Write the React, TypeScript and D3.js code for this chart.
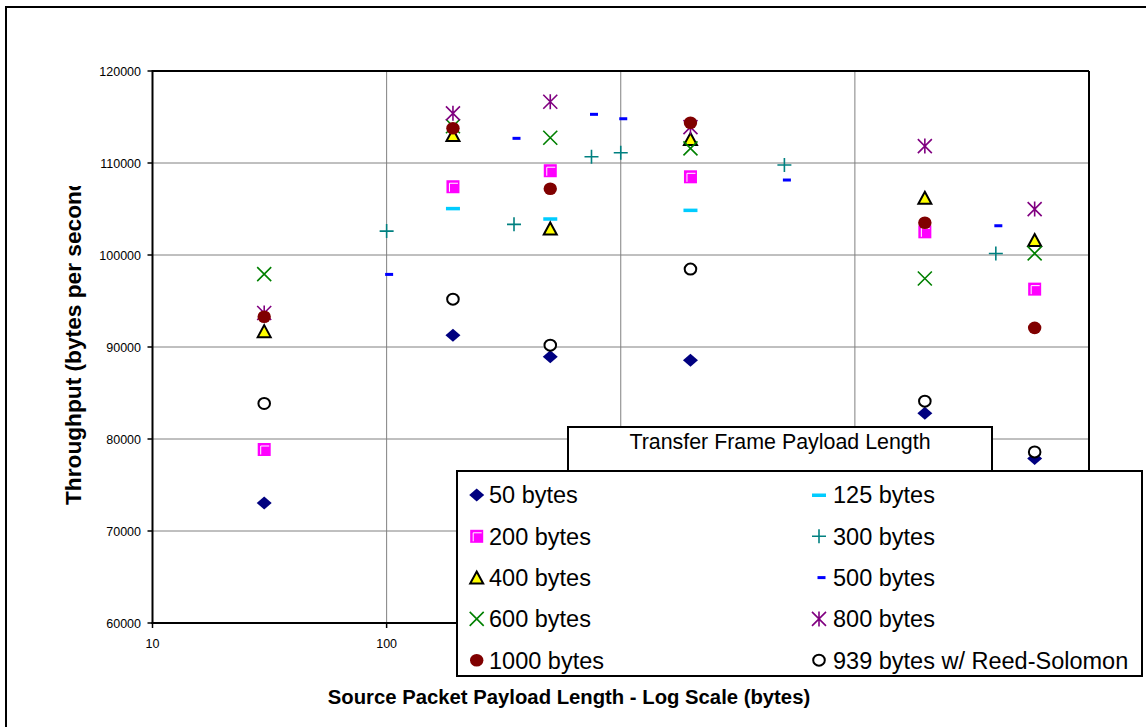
import React from "react";
import * as d3 from "d3";

const colX = [30, 192, 500, 1985, 19900, 58600];
const altX = [100, 350, 750, 1000, 5000, 40000];

const s50 = [73050, 91290, 88950, 88550, 82810, 77880];
const s125 = [null, 105070, 103940, 104880, null, null];
const s200 = [78860, 107420, 109160, 108500, 102520, 96290];
const s300 = [102600, 103330, 110680, 111120, 109780, 100170];
const s400 = [91725, 113040, 102890, 112600, 106220, 101620];
const s500 = [97890, 112680, 115290, 114810, 108150, 103180];
const s600 = [97920, 114000, 112750, 111590, 97450, 100170];
const s800 = [93700, 115400, 116660, 113900, 111840, 104990];
const s1000 = [93280, 113770, 107200, 114380, 103500, 92080];
const s939 = [83860, 95200, 90200, 98470, 84110, 78600];

const yTicks = [60000, 70000, 80000, 90000, 100000, 110000, 120000];
const xTicks = [10, 100, 1000, 10000, 100000];

type Sym = "diamond" | "longdash" | "square" | "plus" | "triangle" | "shortdash" | "x" | "star" | "dot" | "ring";

const series: { name: string; xs: number[]; ys: (number | null)[]; sym: Sym; color: string }[] = [
  { name: "50 bytes", xs: colX, ys: s50, sym: "diamond", color: "#000080" },
  { name: "125 bytes", xs: colX, ys: s125, sym: "longdash", color: "#00CCFF" },
  { name: "200 bytes", xs: colX, ys: s200, sym: "square", color: "#FF00FF" },
  { name: "300 bytes", xs: altX, ys: s300, sym: "plus", color: "#008080" },
  { name: "400 bytes", xs: colX, ys: s400, sym: "triangle", color: "#FFFF00" },
  { name: "500 bytes", xs: altX, ys: s500, sym: "shortdash", color: "#0000FF" },
  { name: "600 bytes", xs: colX, ys: s600, sym: "x", color: "#008000" },
  { name: "800 bytes", xs: colX, ys: s800, sym: "star", color: "#800080" },
  { name: "1000 bytes", xs: colX, ys: s1000, sym: "dot", color: "#800000" },
  { name: "939 bytes w/ Reed-Solomon", xs: colX, ys: s939, sym: "ring", color: "#000000" },
];

const legendOrder = [0, 1, 2, 3, 4, 5, 6, 7, 8, 9];

function Marker({ sym, color, cx, cy }: { sym: Sym; color: string; cx: number; cy: number }) {
  switch (sym) {
    case "diamond":
      return <path d={`M${cx},${cy - 6.5} L${cx + 7.5},${cy} L${cx},${cy + 6.5} L${cx - 7.5},${cy} Z`} fill={color} />;
    case "longdash":
      return <rect x={cx - 7} y={cy - 1.5} width={14} height={3.5} fill={color} />;
    case "shortdash":
      return <rect x={cx - 1.5} y={cy - 1.5} width={8} height={3} fill={color} />;
    case "square":
      return (
        <g>
          <rect x={cx - 6.5} y={cy - 6.5} width={13} height={13} fill={color} />
          <path d={`M${cx - 3.5},${cy + 5} V${cy - 3.5} H${cx + 5}`} fill="none" stroke="#fff" strokeWidth={1} />
        </g>
      );
    case "plus":
      return (
        <path d={`M${cx - 7},${cy} H${cx + 7} M${cx},${cy - 7} V${cy + 7}`} stroke={color} strokeWidth={1.6} fill="none" />
      );
    case "triangle":
      return (
        <path
          d={`M${cx},${cy - 6} L${cx + 6.5},${cy + 6} L${cx - 6.5},${cy + 6} Z`}
          fill={color}
          stroke="#000"
          strokeWidth={2}
          strokeLinejoin="miter"
        />
      );
    case "x":
      return (
        <path
          d={`M${cx - 7},${cy - 7} L${cx + 7},${cy + 7} M${cx + 7},${cy - 7} L${cx - 7},${cy + 7}`}
          stroke={color}
          strokeWidth={1.6}
          fill="none"
        />
      );
    case "star":
      return (
        <path
          d={`M${cx - 7},${cy - 7} L${cx + 7},${cy + 7} M${cx + 7},${cy - 7} L${cx - 7},${cy + 7} M${cx},${cy - 7.5} V${cy + 7.5}`}
          stroke={color}
          strokeWidth={1.6}
          fill="none"
        />
      );
    case "dot":
      return <ellipse cx={cx} cy={cy} rx={6.7} ry={6.3} fill={color} />;
    case "ring":
      return <ellipse cx={cx} cy={cy} rx={5.8} ry={5.5} fill="#fff" stroke="#000" strokeWidth={2} />;
  }
  return null;
}

export default function App() {
  const W = 1146;
  const H = 727;
  const pl = 152.5, pr = 1089, pt = 71, pb = 623;
  const x = d3.scaleLog().domain([10, 100000]).range([pl, pr]);
  const y = d3.scaleLinear().domain([60000, 120000]).range([pb, pt]);
  const font = "Arial, 'Liberation Sans', sans-serif";

  const legX = 457, legY = 471, legW = 685, legH = 205;
  const rowY0 = 495, rowStep = 41.3;
  const colMarkerX = [476.7, 819];
  const colTextX = [489, 833];

  return (
    <svg width={W} height={H} style={{ position: "absolute", left: 0, top: 0 }} fontFamily={font}>
      <defs>
        <clipPath id="ytclip">
          <rect x={0} y={186} width={150} height={540} />
        </clipPath>
      </defs>
      <rect x={0} y={0} width={W} height={H} fill="#fff" />
      {/* outer chart frame */}
      <rect x={6} y={7} width={1170} height={760} fill="none" stroke="#000" strokeWidth={2} />

      {/* gridlines */}
      {yTicks.map((t) => (
        <line key={"gy" + t} x1={pl} x2={pr} y1={y(t)} y2={y(t)} stroke="#808080" strokeWidth={1} />
      ))}
      {xTicks.map((t) => (
        <line key={"gx" + t} x1={x(t)} x2={x(t)} y1={pt} y2={pb} stroke="#808080" strokeWidth={1} />
      ))}

      {/* plot border */}
      <line x1={pl} x2={pr} y1={pt} y2={pt} stroke="#000" strokeWidth={2} />
      <line x1={pr} x2={pr} y1={pt} y2={pb} stroke="#000" strokeWidth={2} />
      <line x1={pl} x2={pl} y1={pt - 1} y2={pb + 1} stroke="#000" strokeWidth={2} />
      <line x1={pl - 1} x2={pr} y1={pb} y2={pb} stroke="#000" strokeWidth={2} />

      {/* y ticks */}
      {yTicks.map((t) => (
        <g key={"ty" + t}>
          <line x1={pl - 5} x2={pl} y1={y(t)} y2={y(t)} stroke="#000" strokeWidth={1.5} />
          <text x={141} y={y(t) + 4.5} textAnchor="end" fontSize={12.5} fill="#000">
            {t}
          </text>
        </g>
      ))}
      {/* x ticks (labels under the legend are hidden in the reference) */}
      {xTicks.map((t) => (
        <g key={"tx" + t}>
          <line x1={x(t)} x2={x(t)} y1={pb} y2={pb + 5} stroke="#000" strokeWidth={1.5} />
          {x(t) + 20 < legX ? (
            <text x={x(t)} y={648} textAnchor="middle" fontSize={12.5} fill="#000">
              {t}
            </text>
          ) : null}
        </g>
      ))}

      {/* data */}
      {series.map((s, si) => (
        <g key={"s" + si}>
          {s.ys.map((v, i) =>
            v == null ? null : <Marker key={i} sym={s.sym} color={s.color} cx={x(s.xs[i])} cy={y(v)} />
          )}
        </g>
      ))}

      {/* axis titles */}
      <g clipPath="url(#ytclip)">
        <text transform={`translate(81,505) rotate(-90)`} fontSize={22.7} fontWeight="bold" fill="#000">
          Throughput (bytes per second)
        </text>
      </g>
      <text x={569} y={704} textAnchor="middle" fontSize={20.3} fontWeight="bold" fill="#000">
        Source Packet Payload Length - Log Scale (bytes)
      </text>

      {/* legend title box */}
      <rect x={568} y={427} width={424} height={44} fill="#fff" stroke="#000" strokeWidth={2} />
      <text x={780} y={448.5} textAnchor="middle" fontSize={21.4} fill="#000">
        Transfer Frame Payload Length
      </text>

      {/* legend */}
      <rect x={legX} y={legY} width={legW} height={legH} fill="#fff" stroke="#000" strokeWidth={2} />
      {legendOrder.map((si, k) => {
        const s = series[si];
        const col = k % 2;
        const row = Math.floor(k / 2);
        const cy = rowY0 + row * rowStep;
        return (
          <g key={"lg" + si}>
            <Marker sym={s.sym} color={s.color} cx={colMarkerX[col]} cy={cy} />
            <text x={colTextX[col]} y={cy + 8.3} fontSize={23.5} fill="#000">
              {s.name}
            </text>
          </g>
        );
      })}
    </svg>
  );
}
